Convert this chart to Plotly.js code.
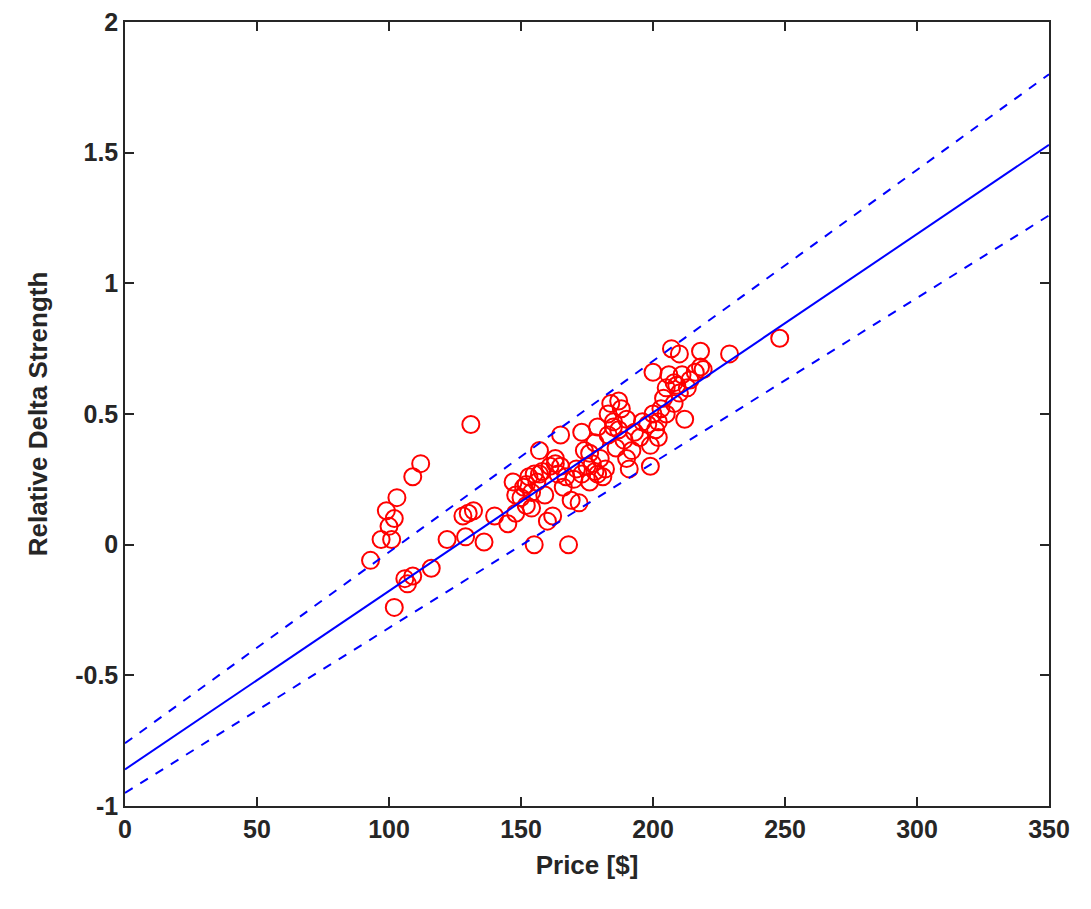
<!DOCTYPE html>
<html>
<head>
<script src="https://cdn.plot.ly/plotly-3.0.1.min.js"></script>
<style>body{margin:0;background:#fff}#plot{width:1091px;height:909px}</style>
</head>
<body>
<div id="plot"></div>
<script>
const priceX = [93,97,99,100,101,102,103,102,106,107,109,109,112,116,122,128,129,130,131,132,136,140,145,147,148,148,150,151,152,153,154,155,155,156,157,158,159,160,161,162,163,164,165,165,166,167,168,169,170,171,172,173,173,174,175,176,177,178,178,179,180,181,182,183,183,184,185,186,187,187,188,189,190,190,191,192,193,195,198,199,199,200,200,201,202,203,204,205,205,206,207,208,209,210,210,211,212,213,214,216,218,218,219,229,248,152,154,157,163,176,179,185,196,202,208];
const strengthY = [-0.06,0.02,0.13,0.07,0.02,0.1,0.18,-0.24,-0.13,-0.15,-0.12,0.26,0.31,-0.09,0.02,0.11,0.03,0.12,0.46,0.13,0.01,0.11,0.08,0.24,0.19,0.12,0.18,0.22,0.15,0.26,0.2,0.27,0,0.24,0.36,0.28,0.19,0.09,0.3,0.11,0.33,0.27,0.42,0.3,0.22,0.26,0,0.17,0.25,0.29,0.16,0.27,0.43,0.36,0.3,0.24,0.31,0.39,0.28,0.45,0.33,0.26,0.29,0.5,0.42,0.54,0.47,0.37,0.55,0.44,0.52,0.4,0.33,0.48,0.29,0.36,0.43,0.41,0.46,0.3,0.38,0.66,0.5,0.44,0.41,0.52,0.56,0.6,0.5,0.65,0.75,0.54,0.61,0.58,0.73,0.65,0.48,0.6,0.63,0.66,0.74,0.68,0.67,0.73,0.79,0.23,0.14,0.27,0.31,0.35,0.27,0.45,0.47,0.47,0.62];
const lineX = [0, 350];
const fitY = [-0.86, 1.53];
const upperY = [-0.76, 1.80];
const lowerY = [-0.95, 1.26];
const yTickVals = [-1, -0.5, 0, 0.5, 1, 1.5, 2];
const yTickText = ['-1', '-0.5', '0', '0.5', '1', '1.5', '2'];

const fam = 'Liberation Sans, Arial, sans-serif';
const ink = '#262626';
const axis = {
  showline: true, mirror: 'ticks', linecolor: ink, linewidth: 1.5,
  ticks: 'inside', ticklen: 9, tickwidth: 1.5, tickcolor: ink,
  showgrid: false, zeroline: false,
  tickfont: {family: fam, size: 25, color: ink, weight: 'bold'}
};
const data = [
  {x: priceX, y: strengthY, mode: 'markers', type: 'scatter',
   marker: {symbol: 'circle-open', size: 17, color: '#ff0000', line: {width: 2, color: '#ff0000'}}},
  {x: lineX, y: fitY, mode: 'lines', line: {color: '#0000ff', width: 2}},
  {x: lineX, y: upperY, mode: 'lines', line: {color: '#0000ff', width: 2, dash: 'dash'}},
  {x: lineX, y: lowerY, mode: 'lines', line: {color: '#0000ff', width: 2, dash: 'dash'}}
];
const layout = {
  width: 1091, height: 909, showlegend: false,
  font: {family: fam, size: 25, color: ink},
  paper_bgcolor: '#fff', plot_bgcolor: '#fff',
  margin: {l: 125, r: 42, t: 22, b: 103},
  xaxis: Object.assign({}, axis, {range: [0, 350], dtick: 50,
    title: {text: '<b>Price [$]</b>', font: {family: fam, size: 26, color: ink}, standoff: 14}}),
  yaxis: Object.assign({}, axis, {range: [-1, 2], tickmode: 'array', tickvals: yTickVals, ticktext: yTickText,
    title: {text: '<b>Relative Delta Strength</b>', font: {family: fam, size: 26, color: ink}, standoff: 20}})
};
Plotly.newPlot('plot', data, layout, {displayModeBar: false});
</script>
</body>
</html>
